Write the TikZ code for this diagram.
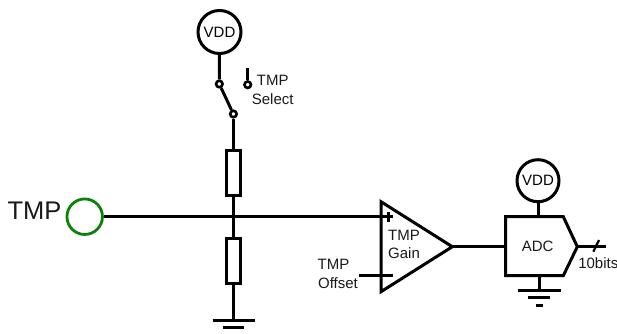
\documentclass[tikz,border=0pt]{standalone}
\usepackage{fontspec}
\setmainfont{Liberation Sans}
\usetikzlibrary{calc}
\definecolor{tmpgreen}{RGB}{10,130,10}
\tikzset{
  wire/.style={draw=black,line width=3pt},
  lbl/.style={inner sep=0pt,font=\fontsize{15}{15}\selectfont,text=black!90},
  supply/.style={circle,draw=black,line width=3pt,minimum size=43pt,inner sep=0pt,fill=white,font=\fontsize{15}{15}\selectfont},
  contact/.style={circle,draw=black,line width=2.6pt,minimum size=6.5pt,inner sep=0pt,fill=white},
  resistor/.style={rectangle,draw=black,line width=3pt,minimum width=14pt,minimum height=45pt,inner sep=0pt,fill=white},
  port/.style={circle,draw=tmpgreen,line width=2.8pt,minimum size=35.5pt,inner sep=0pt}
}
\begin{document}
\begin{tikzpicture}[x=1pt,y=-1pt]
\useasboundingbox (0,0) rectangle (617,333);
% junction and free ends
\coordinate (J) at (233.4,216.7);
\coordinate (P) at (393,216.7);
\coordinate (Mfrom) at (359,275.7);
\coordinate (Mto) at (392.7,275.7);
\coordinate (Amp1) at (381,201.7);
\coordinate (Amp2) at (381,291.7);
\coordinate (AmpO) at (452.3,246.7);
\coordinate (A1) at (505.7,216.7);
\coordinate (A2) at (563.3,216.7);
\coordinate (A3) at (577.3,246.7);
\coordinate (A4) at (563.3,275.7);
\coordinate (A5) at (505.7,275.7);
\coordinate (AIn) at (505.7,246.7);
\coordinate (Out) at (606,246.7);
\coordinate (Atop) at (538,216.7);
\coordinate (Abot) at (539.3,275.7);
\coordinate (G1) at (233.4,320);
\coordinate (G2) at (539.3,290.3);
% nodes
\node[supply] (vdd1) at (219.5,32) {VDD};
\node[contact] (sw1) at (219.3,84) {};
\node[contact] (sw2) at (233.4,114) {};
\node[contact] (sw3) at (247.7,84.7) {};
\coordinate (sw3top) at (247.7,68);
\node[resistor] (r1) at (233.4,172.5) {};
\node[resistor] (r2) at (233.4,261) {};
\node[port] (tmp) at (84.7,216.7) {};
\node[supply,minimum size=42pt] (vdd2) at (538,180.7) {VDD};
% connectors
\draw[wire] (vdd1) -- (sw1);
\draw[wire] (sw1) -- (sw2);
\draw[wire] (sw2) -- (r1);
\draw[wire] (sw3) -- (sw3top);
\draw[wire] (r1) -- (J);
\draw[wire] (J) -- (r2);
\draw[wire] (r2) -- (G1);
\draw[wire] (tmp) -- (P);
\draw[wire] (Mfrom) -- (Mto);
\draw[wire] (AmpO) -- (AIn);
\draw[wire] (vdd2) -- (Atop);
\draw[wire] (Abot) -- (G2);
\draw[wire] (A3) -- (Out);
\draw[wire,line width=2.2pt] (593.3,251.7) -- (599,240);
% plus sign stroke
\draw[wire] (388,212) -- (388,221.5);
% amplifier and ADC
\draw[wire,miter limit=10] (Amp1) -- (AmpO) -- (Amp2) -- cycle;
\draw[wire] (A1) -- (A2) -- (A3) -- (A4) -- (A5) -- cycle;
% grounds
\draw[wire] (212.7,320) -- (255,320);
\draw[wire] (223,327.5) -- (244,327.5);
\draw[wire] (518.3,290.3) -- (560.7,290.3);
\draw[wire] (528,297.7) -- (550,297.7);
\draw[wire] (536,305) -- (542.7,305);
% labels
\node[lbl,font=\fontsize{25.5}{25.5}\selectfont] (tTMP) at (34.5,211) {TMP};
\node[lbl] (t1) at (272.7,80) {TMP};
\node[lbl] (t2) at (272.7,99.5) {Select};
\node[lbl] (t3) at (404,235) {TMP};
\node[lbl] (t4) at (404,253.5) {Gain};
\node[lbl] (t5) at (333.5,264) {TMP};
\node[lbl] (t6) at (338,282.7) {Offset};
\node[lbl] (t7) at (537.7,246) {ADC};
\node[lbl] (t8) at (598.3,263.3) {10bits};
\end{tikzpicture}
\end{document}
